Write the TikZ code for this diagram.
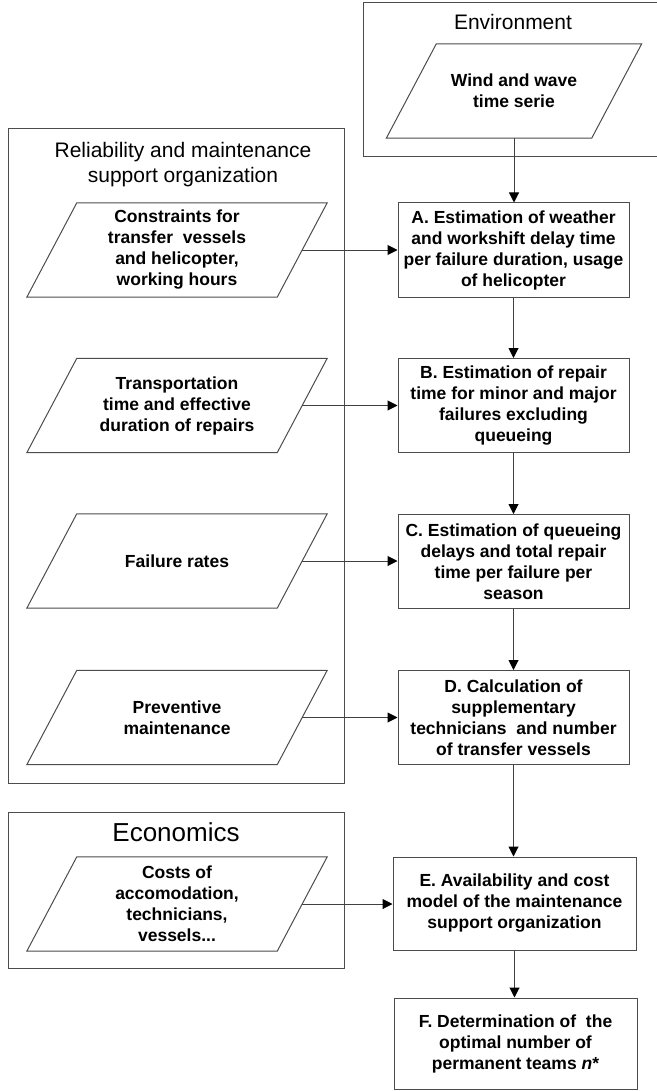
\documentclass[tikz,border=0pt]{standalone}
\usepackage{fontspec}
\setmainfont{Liberation Sans}
\usetikzlibrary{arrows.meta}
\begin{document}
\begin{tikzpicture}[x=1pt,y=-1pt,
  txt/.style={font=\fontsize{17.5}{21}\selectfont\bfseries, align=center, inner sep=0pt},
  box/.style={txt, draw=black!70, line width=1pt, fill=white, minimum width=231pt, minimum height=94pt},
  para/.style={txt, minimum width=250pt, minimum height=94pt},
  grp/.style={draw=black!70, line width=1pt, inner sep=0pt},
  ttl/.style={align=center, inner sep=0pt, font=\fontsize{21}{25}\selectfont},
  conn/.style={draw=black!75, line width=1pt, -{Triangle[width=10pt,length=10pt,color=black]}}
]
\useasboundingbox (0,0) rectangle (656,1091);
% group frames
\node[grp, minimum width=296pt, minimum height=154pt] (envbox) at (511,80) {};
\node[grp, minimum width=336pt, minimum height=654pt] (relbox) at (176,456) {};
\node[grp, minimum width=336pt, minimum height=156pt] (ecobox) at (176,890) {};
% titles
\node[ttl] (envt) at (513,22) {Environment};
\node[ttl] (relt) at (183,164.5) {Reliability and maintenance\\support organization};
\node[ttl, font=\fontsize{26}{30}\selectfont] (ecot) at (176,832) {Economics};
% input (parallelogram) nodes
\node[para, minimum width=205pt] (wind) at (514,91) {Wind and wave\\time serie};
\node[para] (con) at (177,250) {Constraints for\\transfer\ \ vessels\\and helicopter,\\working hours};
\node[para] (tra) at (177,405.5) {Transportation\\time and effective\\duration of repairs};
\node[para] (fai) at (177,561) {Failure rates};
\node[para] (pre) at (177,717.5) {Preventive\\maintenance};
\node[para] (cos) at (177,904) {Costs of\\accomodation,\\technicians,\\vessels...};
\foreach \n in {wind,con,tra,fai,pre,cos}{
  \draw[grp] ([xshift=25pt]\n.north west) -- ([xshift=25pt]\n.north east)
    -- ([xshift=-25pt]\n.south east) -- ([xshift=-25pt]\n.south west) -- cycle;
}
% process boxes
\node[box] (A) at (513.5,250) {A. Estimation of weather\\and workshift delay time\\per failure duration, usage\\of helicopter};
\node[box] (B) at (513.5,405.5) {B. Estimation of repair\\time for minor and major\\failures excluding\\queueing};
\node[box] (C) at (513.5,561.5) {C. Estimation of queueing\\delays and total repair\\time per failure per\\season};
\node[box] (D) at (513.5,717.5) {D. Calculation of\\supplementary\\technicians\ \ and number\\of transfer vessels};
\node[box, minimum width=243pt, minimum height=93pt] (E) at (514.5,903.5) {E. Availability and cost\\model of the maintenance\\support organization};
\node[box, minimum width=243pt, minimum height=91pt] (F) at (515.5,1043.5) {F. Determination of\ \ the\\optimal number of\\permanent teams \textit{n}*};
% connectors
\draw[conn] (wind.south) -- (wind.south |- A.north);
\draw[conn] (A) -- (B);
\draw[conn] (B) -- (C);
\draw[conn] (C) -- (D);
\draw[conn] (D.south) -- (D.south |- E.north);
\draw[conn] (E.south) -- (E.south |- F.north);
\draw[conn] (con.east) -- (con.east -| A.west);
\draw[conn] (tra.east) -- (tra.east -| B.west);
\draw[conn] (fai.east) -- (fai.east -| C.west);
\draw[conn] (pre.east) -- (pre.east -| D.west);
\draw[conn] (cos.east) -- (cos.east -| E.west);
\end{tikzpicture}
\end{document}
